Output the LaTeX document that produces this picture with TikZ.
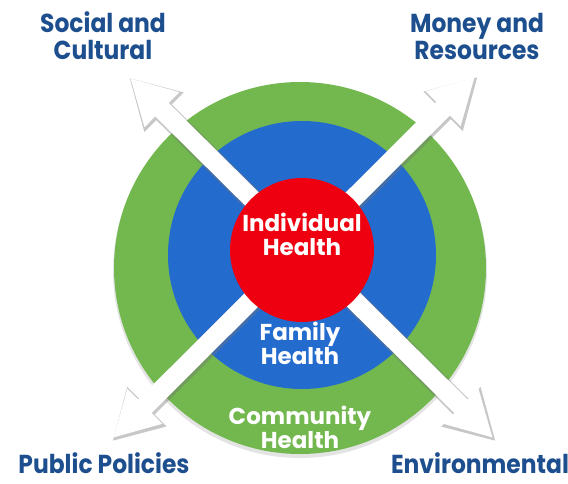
\documentclass[tikz,border=0pt]{standalone}
\usepackage{fontspec}
\setmainfont{Poppins}
\newfontfamily\labelfont[FakeStretch=0.9]{Poppins}
\usetikzlibrary{arrows.meta}

\definecolor{commgreen}{HTML}{72B84F}
\definecolor{famblue}{HTML}{246BCE}
\definecolor{indred}{HTML}{EE0010}
\definecolor{labelblue}{HTML}{1D4F8F}

\begin{document}
\begin{tikzpicture}[x=1pt, y=-1pt,
	ring/.style={
		circle,
		draw=none,
		inner sep=0pt,
	},
	outlabel/.style={
		text=labelblue,
		font=\labelfont\fontsize{26}{27}\selectfont\bfseries,
		align=center,
		inner sep=0pt,
	},
	inlabel/.style={
		text=white,
		font=\fontsize{23}{24}\selectfont\bfseries,
		align=center,
	},
	bigarrow/.style={
		draw=white,
		line width=19pt,
		{Triangle[width=46pt,length=45pt]}-{Triangle[width=46pt,length=45pt]},
	},
	arrowrim/.style={
		draw=black!55,
		line width=22pt,
		shorten >=-2.5pt,
		shorten <=-2.5pt,
		{Triangle[width=52pt,length=49pt]}-{Triangle[width=52pt,length=49pt]},
	},
	]

\useasboundingbox (0,0) rectangle (568,483);

% rings
\fill[black!30, opacity=0.35] (300,271) circle (187);
\draw
(300,268) node[ring, fill=commgreen, minimum size=372pt] (community) {}
(302,255) node[ring, fill=famblue, minimum size=268pt] (family) {}
;

% arrow ends
\coordinate (socialTip) at (130,78);
\coordinate (moneyTip) at (475,77);
\coordinate (policyTip) at (113,438);
\coordinate (envTip) at (493,438);

% shadows of the arrows
\begin{scope}[transparency group, opacity=0.4]
\draw[arrowrim] ([shift={(1,1.5)}]socialTip) -- ([shift={(1,1.5)}]envTip);
\draw[arrowrim] ([shift={(1,1.5)}]moneyTip) -- ([shift={(1,1.5)}]policyTip);
\end{scope}

\draw[bigarrow] (socialTip) -- (envTip);
\draw[bigarrow] (moneyTip) -- (policyTip);

\node[ring, fill=indred, minimum size=144pt] (individual) at (302,250) {};

% texts
\node[inlabel] (indText) at (individual.center) [yshift=16pt] {Individual\\Health};
\node[inlabel] (famText) at (300,343) {Family\\Health};
\node[inlabel] (comText) at (300,427) {Community\\Health};

\node[outlabel] (social) at (103,36) {Social and\\Cultural};
\node[outlabel] (money) at (477,36) {Money and\\Resources};
\node[outlabel] (policy) at (104,463) {Public Policies};
\node[outlabel] (env) at (480,463) {Environmental};

\end{tikzpicture}
\end{document}
